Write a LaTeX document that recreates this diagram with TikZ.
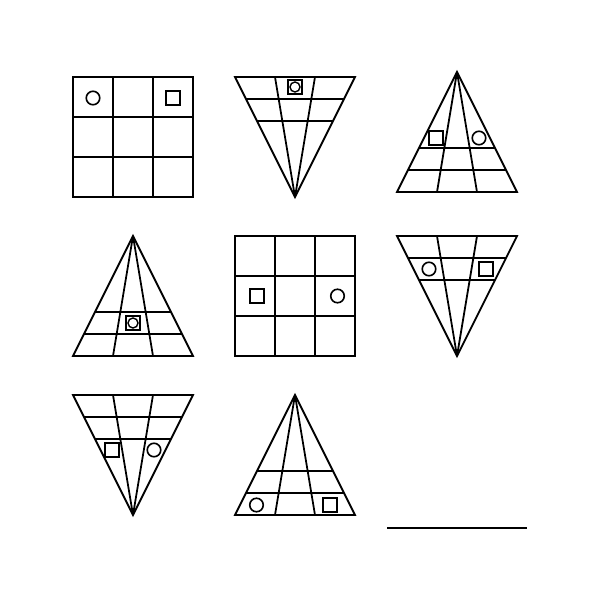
\documentclass[tikz,border=0pt]{standalone}
\begin{document}
\begin{tikzpicture}[x=1pt,y=-1pt,line width=1.8pt,line join=miter]
\tikzset{
  uptri/.pic={
    \draw (0,0) -- (60,120) -- (-60,120) -- cycle;
    \draw (-38,76) -- (38,76);
    \draw (-49,98) -- (49,98);
    \draw (0,0) -- (-20,120);
    \draw (0,0) -- (20,120);
  },
  downtri/.pic={
    \draw (-60,0) -- (60,0) -- (0,120) -- cycle;
    \draw (-49,22) -- (49,22);
    \draw (-38,44) -- (38,44);
    \draw (-20,0) -- (0,120);
    \draw (20,0) -- (0,120);
  },
  gridsq/.pic={
    \draw (0,0) rectangle (120,120);
    \draw (40,0) -- (40,120);
    \draw (80,0) -- (80,120);
    \draw (0,40) -- (120,40);
    \draw (0,80) -- (120,80);
  },
  sqmark/.style={draw,rectangle,minimum size=14pt,inner sep=0pt,line width=1.6pt},
  cmark/.style={draw,circle,minimum size=13.5pt,inner sep=0pt,line width=1.6pt},
  cin/.style={draw,circle,minimum size=10pt,inner sep=0pt,line width=1.4pt}
}
\fill[white] (0,0) rectangle (600,600);
\useasboundingbox (0,0) rectangle (600,600);
% row 1
\pic at (73,77) {gridsq};
\node[cmark] (c1) at (93,98) {};
\node[sqmark] (s1) at (173,98) {};
\pic at (295,77) {downtri};
\node[sqmark] (s2) at (295,87) {};
\node[cin] (c2) at (295,87) {};
\pic at (457,72) {uptri};
\node[sqmark] (s3) at (436,138) {};
\node[cmark] (c3) at (479,138) {};
% row 2
\pic at (133,236) {uptri};
\node[sqmark] (s4) at (133,323) {};
\node[cin] (c4) at (133,323) {};
\pic at (235,236) {gridsq};
\node[sqmark] (s5) at (257,296) {};
\node[cmark] (c5) at (337.5,296) {};
\pic at (457,236) {downtri};
\node[cmark] (c6) at (429,269) {};
\node[sqmark] (s6) at (486,269) {};
% row 3
\pic at (133,395) {downtri};
\node[sqmark] (s7) at (112,450) {};
\node[cmark] (c7) at (154,450) {};
\pic at (295,395) {uptri};
\node[cmark] (c8) at (256.5,505) {};
\node[sqmark] (s8) at (330,505) {};
% answer blank
\coordinate (l1) at (387,528);
\coordinate (l2) at (527,528);
\draw (l1) -- (l2);
\end{tikzpicture}
\end{document}
